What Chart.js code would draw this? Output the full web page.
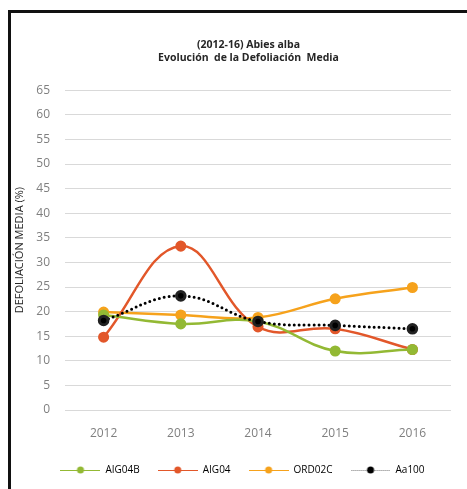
<!DOCTYPE html>
<html>
<head>
<meta charset="utf-8">
<script src="https://cdn.jsdelivr.net/npm/chart.js@4.4.0/dist/chart.umd.min.js"></script>
<style>
  html, body { margin: 0; padding: 0; background: #fff; overflow: hidden; }
  .frame {
    position: absolute; left: 8px; top: 10px; width: 520px; height: 500px;
    border-left: 3px solid #111; border-top: 3px solid #111; background: #fff;
  }
  .wrap { position: absolute; left: -1px; top: 0px; width: 490px; height: 481px; }
</style>
</head>
<body>
<div class="frame">
  <div class="wrap"><canvas id="defolChart"></canvas></div>
</div>
<script>
// ===== Datos: Abies alba 2012-16 =====
const years = ["2012", "2013", "2014", "2015", "2016"];
const aig04b = [19.3, 17.5, 18.0, 12.0, 12.3];
const aig04 = [14.8, 33.3, 16.9, 16.5, 12.3];
const ord02c = [19.9, 19.3, 18.8, 22.6, 24.9];
const aa100 = [18.2, 23.2, 18.0, 17.2, 16.5];

const seriesNames = ["AIG04B", "AIG04", "ORD02C", "Aa100"];
const colors = ["#93b934", "#e2572a", "#f6a21c", "#000000"];

// icono de leyenda: línea + punto
function legendIcon(color, dotted) {
  const c = document.createElement("canvas");
  c.width = 40; c.height = 10;
  const g = c.getContext("2d");
  g.strokeStyle = dotted ? "#777" : color;
  g.lineWidth = 1;
  if (dotted) g.setLineDash([1, 1]);
  g.beginPath(); g.moveTo(0, 5.5); g.lineTo(40, 5.5); g.stroke();
  g.fillStyle = color;
  g.beginPath(); g.arc(20, 5, 3.5, 0, Math.PI * 2); g.fill();
  return c;
}

const allData = [aig04b, aig04, ord02c, aa100];
const datasets = allData.map((d, i) => {
  const dotted = i === 3;
  return {
    label: seriesNames[i],
    data: d,
    borderColor: colors[i],
    backgroundColor: colors[i],
    pointBackgroundColor: colors[i],
    pointBorderColor: dotted ? "#222" : colors[i],
    pointRadius: 4.3,
    borderWidth: dotted ? 3 : 2.5,
    borderDash: dotted ? [0, 5] : [],
    borderCapStyle: dotted ? "round" : "butt",
    tension: 0.4,
    fill: false,
    order: dotted ? 0 : 1,
  };
});

// desplazar título y leyenda para centrarlos como en el original
const shiftBlocks = {
  id: "shiftBlocks",
  afterLayout(chart) {
    if (chart.titleBlock) { chart.titleBlock.left += 18; chart.titleBlock.right += 18; }
    if (chart.legend) { chart.legend.left += 12; chart.legend.right += 12; }
  },
};

const ctx = document.getElementById("defolChart");
new Chart(ctx, {
  type: "line",
  data: { labels: years, datasets: datasets },
  plugins: [shiftBlocks],
  options: {
    responsive: true,
    maintainAspectRatio: false,
    animation: false,
    layout: { padding: { left: 0, right: 49, top: 0, bottom: 9 } },
    plugins: {
      title: {
        display: true,
        text: ["(2012-16) Abies alba", "Evolución  de la Defoliación  Media"],
        color: "#262626",
        font: { family: "'Open Sans', sans-serif", size: 10.5, weight: "bold" },
        padding: { top: 26, bottom: 26 },
      },
      legend: {
        position: "bottom",
        labels: {
          usePointStyle: true,
          pointStyleWidth: 40,
          color: "#262626",
          font: { family: "'Open Sans', sans-serif", size: 10 },
          padding: 18,
          generateLabels: (chart) =>
            chart.data.datasets.map((ds, i) => ({
              text: ds.label,
              pointStyle: legendIcon(colors[i], i === 3),
              fillStyle: colors[i],
              strokeStyle: colors[i],
              lineWidth: 0,
              datasetIndex: i,
            })),
        },
      },
    },
    scales: {
      x: {
        offset: true,
        afterFit: (s) => { s.height = 37; },
        grid: { display: false },
        border: { display: false },
        ticks: {
          color: "#7f7f7f",
          font: { family: "'Open Sans', sans-serif", size: 12 },
          padding: 8,
        },
      },
      y: {
        min: 0,
        max: 65,
        afterFit: (s) => { s.width = 55; },
        grid: { color: "#d9d9d9", drawTicks: false },
        border: { display: false },
        ticks: {
          stepSize: 5,
          color: "#7f7f7f",
          font: { family: "'Open Sans', sans-serif", size: 12 },
          padding: 15,
        },
        title: {
          display: true,
          text: "DEFOLIACIÓN MEDIA (%)",
          color: "#262626",
          font: { family: "'Open Sans', sans-serif", size: 11 },
          padding: 3,
        },
      },
    },
  },
});
</script>
</body>
</html>
